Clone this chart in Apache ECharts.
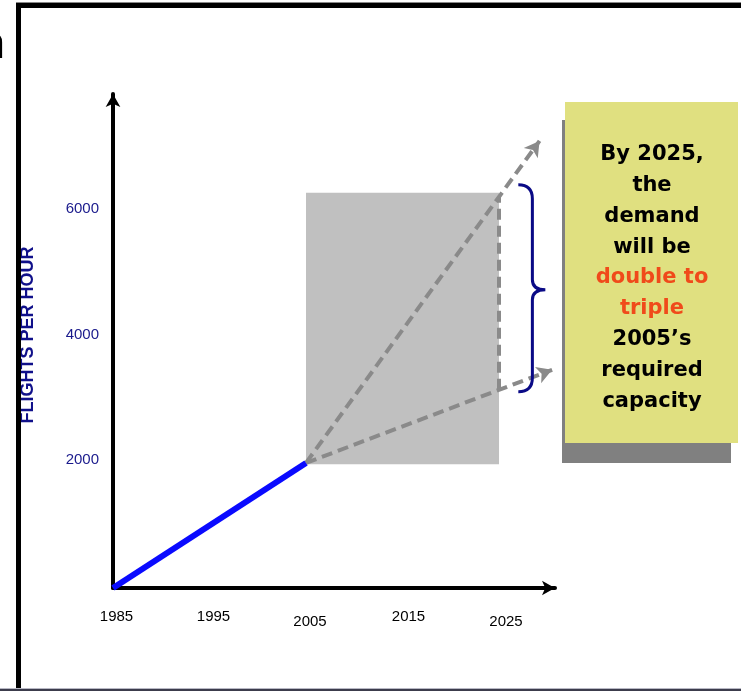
<!DOCTYPE html>
<html>
<head>
<meta charset="utf-8">
<script src="https://cdn.jsdelivr.net/npm/echarts@6/dist/echarts.min.js"></script>
<style>
html,body{margin:0;padding:0;background:#fff;}
#chart{width:741px;height:691px;}
</style>
</head>
<body>
<div id="chart"></div>
<script>
// ---- data ----
const xTickLabels = [1985, 1995, 2005, 2015, 2025];
const yTickLabels = [2000, 4000, 6000];
const historyYears = [1985, 2005];
const historyFlights = [0, 2000];
const highProjection = [[2005, 2000], [2029.2, 7150]];
const lowProjection = [[2005, 2000], [2030.5, 3490]];
const range2025 = [3170, 6260];           // low / high demand in 2025
const projectionBox = [[2005, 1980], [2025, 6320]];
const braceSpan = [2027, 2029.8, 3140, 6450, 4770]; // x0, tip x, low, high, mid
const noteLines = ['By 2025,', 'the', 'demand', 'will be', 'double to', 'triple', '2005\u2019s', 'required', 'capacity'];
const highlighted = ['double to', 'triple'];

const chart = echarts.init(document.getElementById('chart'), null, {renderer: 'canvas'});

const dashStyle = {color: '#8a8a8a', width: 4, type: [11, 6]};

const noteText = noteLines.map(l => highlighted.indexOf(l) >= 0 ? '{o|' + l + '}' : '{b|' + l + '}').join('\n');

// hand-placed label nudges of the original slide (left pad, top pad)
const xLabelNudge = [[7, 0], [8, 0], [8, 5], [12, 0], [14, 5]];
const xRich = {};
xLabelNudge.forEach((n, i) => {
  xRich['l' + i] = {color: '#000', fontSize: 15, fontFamily: 'Liberation Sans', padding: [n[1], 0, 0, n[0]]};
});

const option = {
  animation: false,
  backgroundColor: '#ffffff',
  grid: {left: 113, right: 186, top: 94, bottom: 103},
  xAxis: {
    type: 'value', min: 1985, max: 2030.8, interval: 10,
    axisLine: {show: true, onZero: false, symbol: ['none', 'arrow'], symbolSize: [11, 13],
      lineStyle: {color: '#000', width: 4}},
    axisTick: {show: false}, splitLine: {show: false},
    axisLabel: {color: '#000', fontSize: 15, fontFamily: 'Liberation Sans', margin: 21,
      rich: xRich,
      formatter: v => {
        const i = xTickLabels.indexOf(v);
        return i >= 0 ? '{l' + i + '|' + v + '}' : '';
      }}
  },
  yAxis: {
    type: 'value', min: 0, max: 7900, interval: 2000,
    name: 'FLIGHTS PER HOUR', nameLocation: 'middle', nameGap: 76, nameRotate: 90,
    nameTextStyle: {color: '#10108a', fontSize: 18, fontWeight: 'bold', fontFamily: 'Liberation Sans', padding: [0, 0, 0, 12]},
    axisLine: {show: true, symbol: ['none', 'arrow'], symbolSize: [11, 13],
      lineStyle: {color: '#000', width: 4}},
    axisTick: {show: false}, splitLine: {show: false},
    axisLabel: {color: '#1a1a8c', fontSize: 15, fontFamily: 'Liberation Sans', margin: 14,
      rich: {t: {color: '#1a1a8c', fontSize: 15, fontFamily: 'Liberation Sans', padding: [0, 0, 7, 0]}},
      formatter: v => yTickLabels.indexOf(v) >= 0 ? '{t|' + v + '}' : ''}
  },
  series: [
    {
      type: 'line', name: 'history', z: 5,
      data: historyYears.map((y, i) => [y, historyFlights[i]]),
      symbol: 'none', lineStyle: {color: '#0a0aff', width: 6},
      clip: false,
      markArea: {
        silent: true,
        itemStyle: {color: '#c0c0c0', opacity: 1},
        data: [[{coord: projectionBox[0]}, {coord: projectionBox[1]}]]
      }
    },
    {
      type: 'line', name: 'projections', data: [], z: 4,
      markLine: {
        silent: true, symbol: ['none', 'arrow'], symbolSize: [13, 15],
        label: {show: false},
        lineStyle: dashStyle,
        data: [
          [{coord: highProjection[0]}, {coord: highProjection[1]}],
          [{coord: lowProjection[0]}, {coord: lowProjection[1]}],
          [{coord: [2025, range2025[0]], symbol: 'none'}, {coord: [2025, range2025[1]], symbol: 'none'}]
        ]
      }
    },
    {
      type: 'custom', name: 'brace', z: 6,
      data: [braceSpan],
      renderItem: function (params, api) {
        const pTop = api.coord([api.value(0), api.value(3)]);
        const pBot = api.coord([api.value(0), api.value(2)]);
        const pTip = api.coord([api.value(1), api.value(4)]);
        const x0 = pTop[0], yT = pTop[1], yB = pBot[1], xt = pTip[0], ym = pTip[1];
        const xs = x0 + (xt - x0) * 0.52;
        const d = `M${x0} ${yT} Q${xs} ${yT} ${xs} ${yT + 14} L${xs} ${ym - 10} Q${xs} ${ym} ${xt} ${ym} Q${xs} ${ym} ${xs} ${ym + 10} L${xs} ${yB - 14} Q${xs} ${yB} ${x0} ${yB}`;
        return {type: 'path', shape: {pathData: d}, style: {fill: null, stroke: '#0a0a86', lineWidth: 3}};
      }
    }
  ],
  graphic: [
    // frame
    {type: 'rect', shape: {x: 16, y: 3, width: 5, height: 688}, style: {fill: '#000'}, z: 10},
    {type: 'rect', shape: {x: 16, y: 2, width: 725, height: 1}, style: {fill: '#888'}, z: 10},
    {type: 'rect', shape: {x: 16, y: 3, width: 725, height: 5}, style: {fill: '#000'}, z: 10},
    {type: 'rect', shape: {x: 0, y: 688, width: 741, height: 1}, style: {fill: '#b8b8c4'}, z: 10},
    {type: 'rect', shape: {x: 0, y: 689, width: 741, height: 2}, style: {fill: '#3c3c4c'}, z: 10},
    {type: 'text', style: {text: 'n', x: 5, y: 68, textAlign: 'right', textVerticalAlign: 'bottom', fontSize: 44, fontFamily: 'Liberation Sans', fill: '#000'}, z: 10},
    // note box
    {type: 'rect', shape: {x: 562, y: 120, width: 169, height: 343}, style: {fill: '#808080'}, z: 10},
    {type: 'rect', shape: {x: 565, y: 102, width: 173, height: 341}, style: {fill: '#e0e080'}, z: 11},
    {type: 'text', z: 12, style: {
      text: noteText, x: 652, y: 278, textAlign: 'center', textVerticalAlign: 'middle',
      rich: {
        b: {fontSize: 21, fontWeight: 'bold', fontFamily: 'DejaVu Sans', fill: '#000', lineHeight: 30.8, align: 'center'},
        o: {fontSize: 21, fontWeight: 'bold', fontFamily: 'DejaVu Sans', fill: '#f04a1a', lineHeight: 30.8, align: 'center'}
      }
    }}
  ]
};
chart.setOption(option);
</script>
</body>
</html>
